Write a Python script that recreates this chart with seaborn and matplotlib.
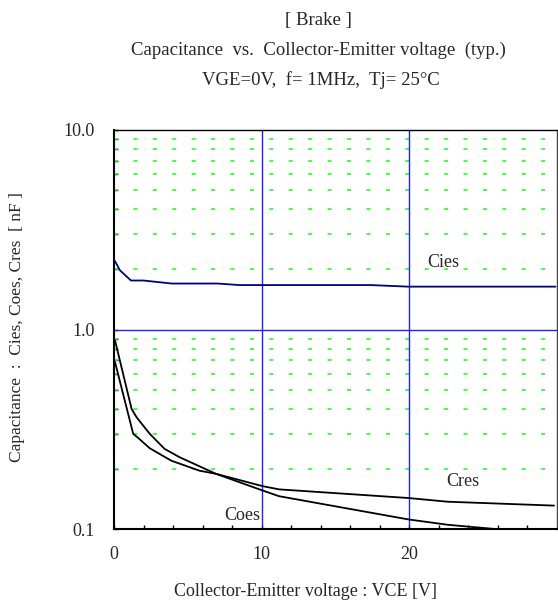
import numpy as np
import pandas as pd
import seaborn as sns
import matplotlib
matplotlib.use("Agg")
import matplotlib.pyplot as plt
from matplotlib.ticker import FixedLocator, NullFormatter

# Capacitance curves (VCE in V, C in nF)
cies_vce = [0.07, 0.4, 1.15, 2.0, 3.9, 7.0, 8.5, 17.4, 19.9, 29.9]
cies_c = [2.2, 1.98, 1.76, 1.76, 1.70, 1.70, 1.67, 1.67, 1.64, 1.64]

cres_vce = [0.07, 1.3, 1.64, 2.42, 3.88, 5.79, 6.91, 10.06, 11.18, 19.93, 22.6, 29.8]
cres_c = [0.686, 0.30, 0.286, 0.254, 0.220, 0.196, 0.189, 0.164, 0.158, 0.143, 0.137, 0.131]

coes_vce = [0.07, 1.19, 1.53, 2.42, 3.43, 4.44, 6.91, 10.06, 11.18, 19.93, 22.6, 25.8, 29.9]
coes_c = [0.881, 0.40, 0.363, 0.300, 0.252, 0.229, 0.189, 0.156, 0.146, 0.1117, 0.105, 0.100, 0.095]

x_ticks = [0, 10, 20]
y_ticks = [0.1, 1.0, 10.0]
y_tick_labels = ["0.1", "1.0", "10.0"]

sns.set_theme(style="white")
plt.rcParams["font.family"] = ["Liberation Serif", "DejaVu Serif"]

fig = plt.figure(figsize=(5.58, 6.04), dpi=100)
ax = fig.add_axes([114 / 558, 1 - 529 / 604, 443 / 558, 399 / 604])
ax.set_yscale("log")
ax.set_xlim(0, 30)
ax.set_ylim(0.1, 10)

# green dashed minor grid
minor_y = [m * d for d in (0.1, 1.0) for m in range(2, 10)]
for v in minor_y:
    ax.axhline(v, color="#22ff22", lw=1.2, linestyle=(0, (2.4, 9.25)), zorder=1)
# blue major grid
for v in (10, 20):
    ax.axvline(v, color="#2020ff", lw=1.0, zorder=1.5)
ax.axhline(1.0, color="#2020ff", lw=1.0, zorder=1.5)

sns.lineplot(x=cies_vce, y=cies_c, ax=ax, color="#000080", lw=1.3, zorder=3)
sns.lineplot(x=cres_vce, y=cres_c, ax=ax, color="black", lw=1.3, zorder=3)
sns.lineplot(x=coes_vce, y=coes_c, ax=ax, color="black", lw=1.3, zorder=3)

ax.text(22.3, 2.17, "Cies", fontsize=13, ha="center", va="center")
ax.text(23.6, 0.174, "Cres", fontsize=13, ha="center", va="center")
ax.text(8.7, 0.117, "Coes", fontsize=13, ha="center", va="center")

ax.xaxis.set_major_locator(FixedLocator(x_ticks))
ax.xaxis.set_minor_locator(FixedLocator(list(range(2, 30, 2))))
ax.set_xticklabels([str(t) for t in x_ticks], fontsize=13)
ax.yaxis.set_major_locator(FixedLocator(y_ticks))
ax.yaxis.set_minor_locator(FixedLocator(minor_y))
ax.yaxis.set_minor_formatter(NullFormatter())
ax.set_yticklabels(y_tick_labels, fontsize=13)
ax.tick_params(axis="both", which="both", direction="in", length=3, width=1, color="black")
ax.tick_params(axis="y", which="major", pad=14)
ax.tick_params(axis="x", which="major", pad=12)
ax.xaxis.set_ticks_position("bottom")
ax.yaxis.set_ticks_position("left")

for s in ax.spines.values():
    s.set_color("black")
    s.set_linewidth(1.0)
ax.spines["left"].set_linewidth(1.5)
ax.spines["bottom"].set_linewidth(1.5)
ax.spines["right"].set_color("#444444")

fig.text(318 / 558, 1 - 21 / 604, "[ Brake ]", fontsize=13.5, ha="center", va="center")
fig.text(318 / 558, 1 - 50 / 604, "Capacitance  vs.  Collector-Emitter voltage  (typ.)",
         fontsize=13.5, ha="center", va="center")
fig.text(321 / 558, 1 - 80 / 604, "VGE=0V,  f= 1MHz,  Tj= 25°C", fontsize=13.5,
         ha="center", va="center")
fig.text(306 / 558, 1 - 592 / 604, "Collector-Emitter voltage : VCE [V]", fontsize=13,
         ha="center", va="center")
fig.text(17 / 558, 1 - 327 / 604, "Capacitance  :  Cies, Coes, Cres  [ nF ]", fontsize=12.5,
         ha="center", va="center", rotation=90)

fig.savefig("out.png", dpi=100)
